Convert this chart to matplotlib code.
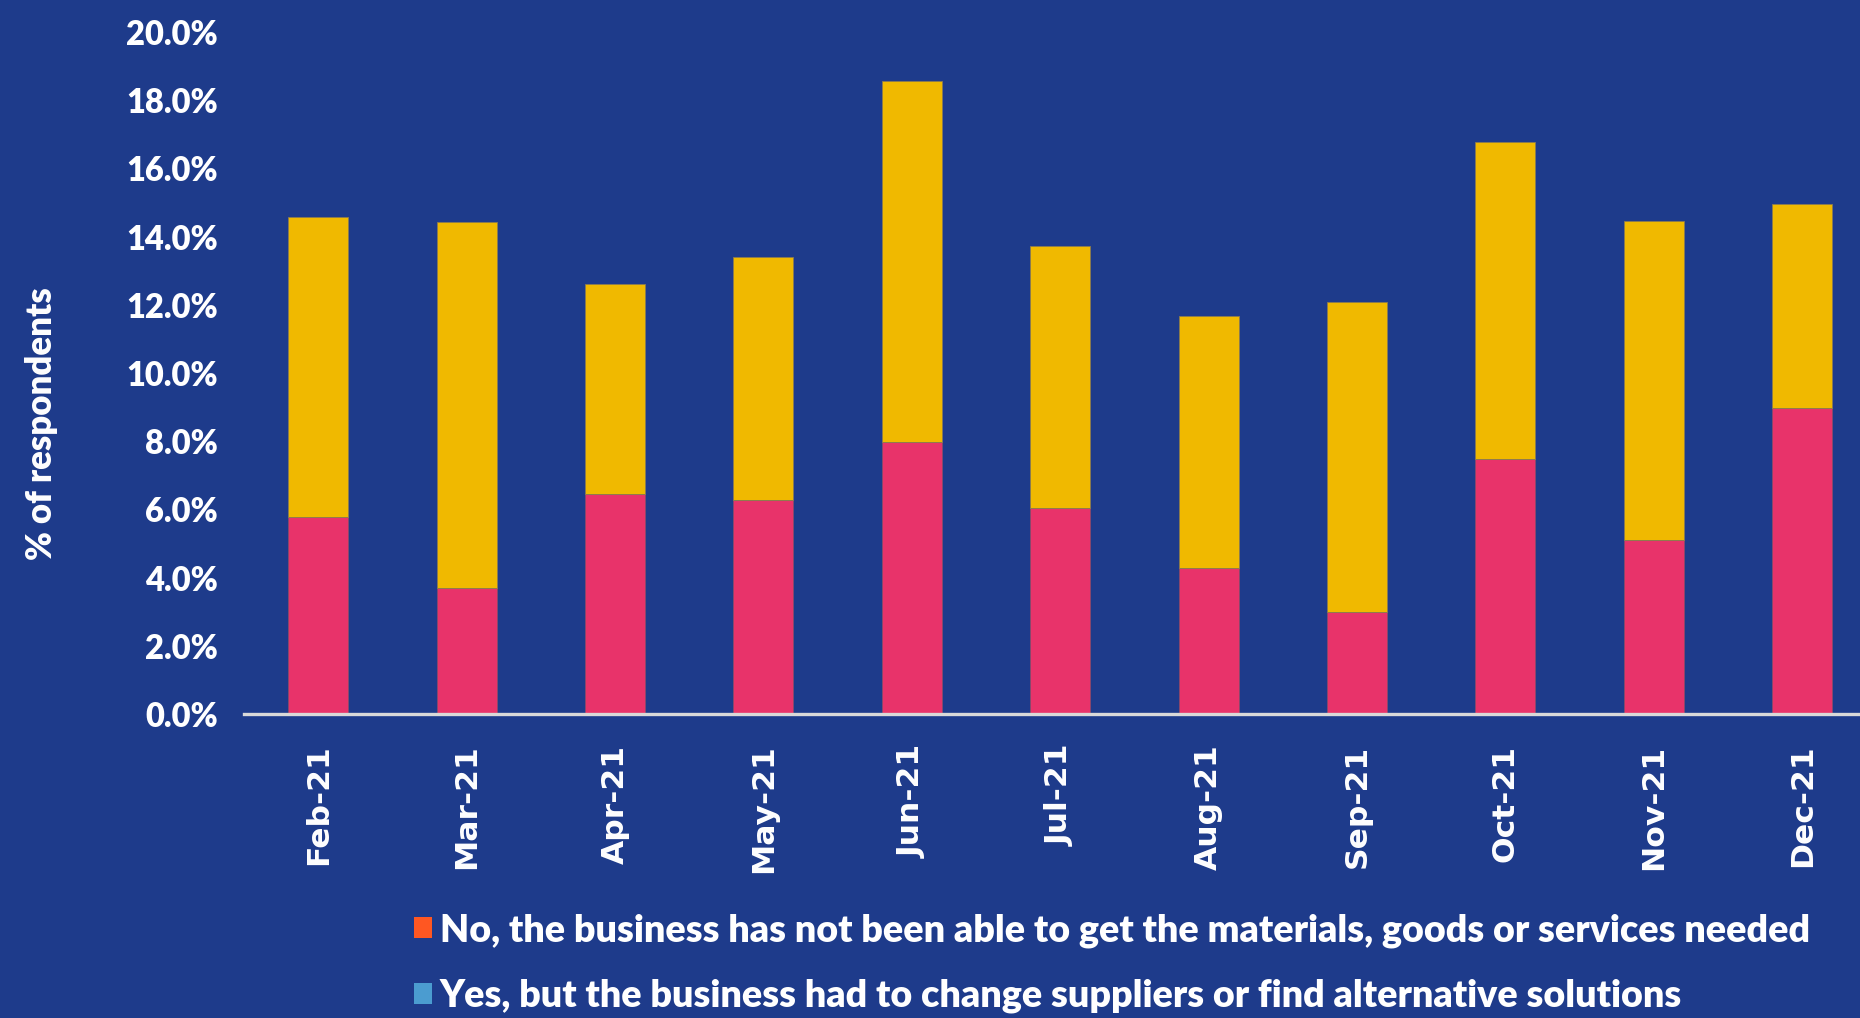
import matplotlib
matplotlib.use("Agg")
import matplotlib.pyplot as plt
from matplotlib.patches import Patch
from matplotlib.ticker import FuncFormatter

# Monthly survey shares (% of respondents)
months = ["Feb-21", "Mar-21", "Apr-21", "May-21", "Jun-21", "Jul-21",
          "Aug-21", "Sep-21", "Oct-21", "Nov-21", "Dec-21"]
not_able = [5.79, 3.70, 6.44, 6.28, 7.97, 6.04, 4.27, 2.99, 7.49, 5.09, 8.96]
changed_suppliers = [8.78, 10.73, 6.18, 7.12, 10.58, 7.67, 7.40, 9.08, 9.27, 9.36, 6.01]
legend_labels = [
    "No, the business has not been able to get the materials, goods or services needed",
    "Yes, but the business had to change suppliers or find alternative solutions",
]
y_ticks = [0, 2, 4, 6, 8, 10, 12, 14, 16, 18, 20]

BG = "#1E3B8B"
PINK = "#E8336A"
YELLOW = "#F0B900"
WHITE = "#FFFFFF"

W, H = 1860, 1018
fig = plt.figure(figsize=(W / 100, H / 100), dpi=100, facecolor=BG)
ax = fig.add_axes([244 / W, 304 / H, (W - 244) / W, 682 / H], facecolor=BG)

x = range(len(months))
bar_w = 0.404
ax.bar(x, not_able, width=bar_w, color=PINK, edgecolor="#8a4a6a", linewidth=0.6, zorder=2)
ax.bar(x, changed_suppliers, width=bar_w, bottom=not_able, color=YELLOW,
       edgecolor="#8a7a50", linewidth=0.6, zorder=2)

ax.set_xlim(-0.5, 10.39)
ax.set_ylim(0, 20)
for s in ax.spines.values():
    s.set_visible(False)
ax.axhline(0, color="#D9D9D9", linewidth=2.4, zorder=3, clip_on=False)

ax.set_yticks(y_ticks)
ax.yaxis.set_major_formatter(FuncFormatter(lambda v, _: f"{v:.1f}%"))
ax.tick_params(axis="y", length=0, pad=18.7, labelcolor=WHITE)
for lab in ax.get_yticklabels():
    lab.set_fontfamily("Lato")
    lab.set_fontweight("heavy")
    lab.set_fontsize(23.5)

ax.set_xticks(list(x))
ax.set_xticklabels(months, rotation=90, fontsize=22.6, fontweight="bold",
                   fontfamily="DejaVu Sans", color=WHITE, va="top", ha="center")
ax.tick_params(axis="x", length=0, pad=22)

fig.text(42 / W, 1 - 424 / H, "% of respondents", rotation=90, color=WHITE,
         fontsize=25, fontweight="heavy", fontfamily="Lato",
         ha="center", va="center")

handles = [Patch(facecolor="#FF5722", edgecolor="none"),
           Patch(facecolor="#4B9CD0", edgecolor="none")]
leg = fig.legend(handles, legend_labels, loc="upper left",
                 bbox_to_anchor=(414 / W, 1 - 913 / H), frameon=False,
                 prop={"family": "Lato", "weight": "heavy", "size": 27.1},
                 handlelength=0.47, handleheight=0.47, handletextpad=0.21,
                 labelspacing=0.83, borderpad=0, borderaxespad=0)
for t in leg.get_texts():
    t.set_color(WHITE)

fig.savefig("out.png", dpi=100, facecolor=BG)
